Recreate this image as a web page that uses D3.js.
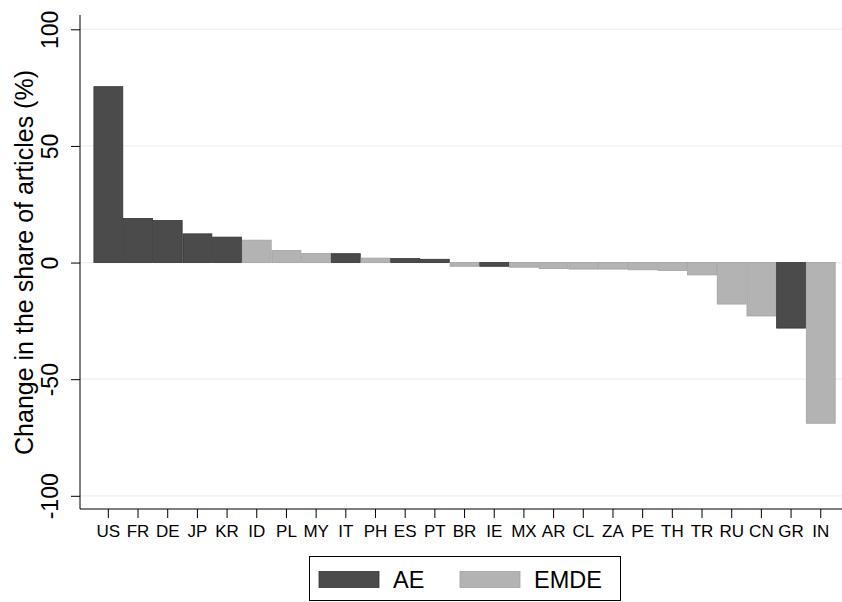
<!DOCTYPE html>
<html><head><meta charset="utf-8">
<script src="https://cdn.jsdelivr.net/npm/d3@7"></script>
<style>body{margin:0;background:#fff}svg{display:block}text{font-family:"Liberation Sans",Arial,sans-serif;fill:#000}</style>
</head><body><svg id="c" width="842" height="602"></svg>
<script>
const countries = ["US","FR","DE","JP","KR","ID","PL","MY","IT","PH","ES","PT","BR","IE","MX","AR","CL","ZA","PE","TH","TR","RU","CN","GR","IN"];
const values = [75.4,18.9,18.0,12.3,10.9,9.6,5.2,3.9,3.8,1.9,1.7,1.4,-1.6,-1.6,-2.0,-2.6,-2.8,-2.8,-3.1,-3.4,-5.3,-17.8,-22.9,-28.1,-68.9];
const groups = ["AE","AE","AE","AE","AE","EMDE","EMDE","EMDE","AE","EMDE","AE","AE","EMDE","AE","EMDE","EMDE","EMDE","EMDE","EMDE","EMDE","EMDE","EMDE","EMDE","AE","EMDE"];
const yTicks = [-100,-50,0,50,100];
const legendLabels = ["AE","EMDE"];

const fill = {AE:"#4b4b4b", EMDE:"#b3b3b3"};
const stroke = {AE:"#333333", EMDE:"#a2a2a2"};
const svg = d3.select("#c");
const axisX = 80, axisBottom = 509, axisTop = 15, plotRight = 842;

const x = d3.scaleBand().domain(countries).range([93.5, 835.6]).padding(0);
const y = d3.scaleLinear().domain([-100,100]).range([495.8, 29.3]);

// gridlines
svg.append("g").selectAll("line").data(yTicks).join("line")
  .attr("x1", axisX).attr("x2", plotRight)
  .attr("y1", d=>y(d)).attr("y2", d=>y(d))
  .attr("stroke", "#eaf2f3").attr("stroke-width", 1.3);

// bars
const data = countries.map((c,i)=>({c, v:values[i], g:groups[i]}));
svg.append("g").selectAll("rect").data(data).join("rect")
  .attr("x", d=>x(d.c)+0.4)
  .attr("width", x.bandwidth()-0.8)
  .attr("y", d=>y(Math.max(0,d.v)))
  .attr("height", d=>Math.abs(y(d.v)-y(0)))
  .attr("fill", d=>fill[d.g]).attr("stroke", d=>stroke[d.g]).attr("stroke-width", 0.8);

// y axis
const yAxis = svg.append("g").attr("transform", `translate(${axisX},0)`)
  .call(d3.axisLeft(y).tickValues(yTicks).tickSize(9).tickPadding(0).tickFormat(d3.format("d")));
yAxis.select(".domain").remove();
yAxis.selectAll(".tick line").attr("stroke","#000");
yAxis.selectAll(".tick text")
  .attr("transform","translate(-22,0) rotate(-90)")
  .attr("x",0).attr("y",0).attr("dy",0).attr("text-anchor","middle")
  .style("font-size","23px").text(d=>d<0?"-"+Math.abs(d):d);
svg.append("line").attr("x1",axisX).attr("x2",axisX).attr("y1",axisTop).attr("y2",axisBottom)
  .attr("stroke","#000").attr("stroke-width",1);

// x axis
const xAxis = svg.append("g").attr("transform", `translate(0,${axisBottom})`)
  .call(d3.axisBottom(x).tickSize(9).tickPadding(0));
xAxis.select(".domain").remove();
xAxis.selectAll(".tick line").attr("stroke","#000");
xAxis.selectAll(".tick text").style("font-size","17px").attr("y",27.5).attr("dy",0);
svg.append("line").attr("x1",axisX).attr("x2",plotRight).attr("y1",axisBottom).attr("y2",axisBottom)
  .attr("stroke","#000").attr("stroke-width",1);

// y title
svg.append("text").attr("transform","translate(33,262.5) rotate(-90)")
  .attr("text-anchor","middle").style("font-size","25px")
  .text("Change in the share of articles (%)");

// legend
const lg = svg.append("g");
lg.append("rect").attr("x",309.5).attr("y",556.5).attr("width",311).attr("height",44)
  .attr("fill","#fff").attr("stroke","#000").attr("stroke-width",1);
const lx = [319, 460], tx = [393, 534];
legendLabels.forEach((k,i)=>{
  lg.append("rect").attr("x",lx[i]).attr("y",571.5).attr("width",60).attr("height",16)
    .attr("fill",fill[k]).attr("stroke",stroke[k]).attr("stroke-width",0.8);
  lg.append("text").attr("x",tx[i]).attr("y",587.5).style("font-size","23.5px").text(k);
});
</script></body></html>
